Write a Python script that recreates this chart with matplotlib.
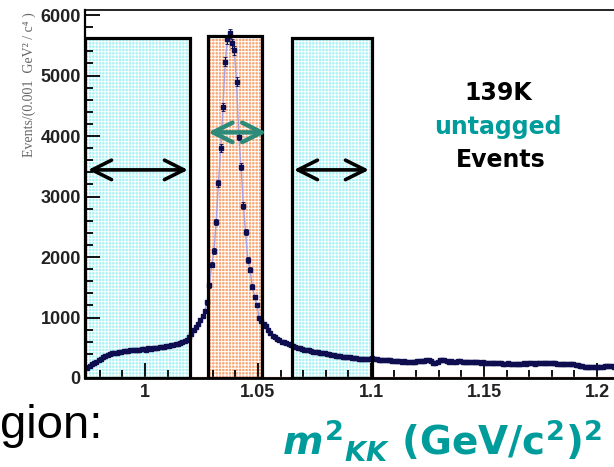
import numpy as np
import matplotlib
matplotlib.use("Agg")
import matplotlib.pyplot as plt
from matplotlib.patches import Rectangle
from matplotlib.ticker import MultipleLocator

# m^2(KK) histogram, 0.001 GeV^2 bins starting at 0.974
bin_lo = 0.974
bin_w = 0.001
counts = [
    170, 195, 225, 250, 270, 295, 320, 345, 365, 385,
    390, 405, 415, 420, 435, 430, 445, 440, 450, 455,
    460, 455, 470, 465, 475, 480, 470, 490, 485, 495,
    500, 495, 510, 505, 520, 530, 525, 540, 545, 555,
    565, 580, 595, 615, 635, 680, 730, 790, 840, 900,
    960, 1030, 1110, 1250, 1530, 1870, 2100, 2580, 3220, 3800,
    4480, 5230, 5600, 5700, 5530, 5420, 4900, 3990, 3490, 2850,
    2410, 1950, 1790, 1510, 1340, 1210, 990, 950, 900, 860,
    800, 750, 700, 670, 640, 620, 600, 590, 575, 560,
    545, 530, 515, 500, 490, 480, 470, 462, 455, 445,
    435, 430, 425, 415, 410, 405, 400, 390, 385, 375,
    370, 365, 360, 355, 350, 345, 340, 338, 332, 328,
    322, 318, 315, 312, 310, 320, 325, 318, 312, 305,
    300, 298, 295, 305, 290, 285, 282, 280, 278, 272,
    275, 268, 270, 265, 272, 268, 275, 280, 286, 282,
    290, 295, 280, 255, 245, 265, 300, 305, 290, 280,
    270, 275, 268, 272, 280, 276, 270, 265, 268, 262,
    265, 258, 262, 260, 255, 258, 252, 250, 254, 248,
    245, 242, 248, 240, 238, 236, 245, 232, 236, 228,
    226, 232, 238, 242, 236, 244, 240, 246, 238, 244,
    248, 252, 246, 254, 250, 244, 252, 240, 236, 232,
    238, 230, 234, 228, 232, 225, 220, 210, 200, 195,
    188, 185, 180, 178, 182, 175, 178, 185, 190, 195,
    198, 200, 195, 190, 192, 188, 190, 186, 190, 192,
]

# sideband / signal windows (lo, hi, top)
left_sb = (0.9735, 1.0199, 5620)
signal = (1.0279, 1.0518, 5650)
right_sb = (1.0650, 1.1004, 5620)

# arrows (x0, x1, y)
arrow_left = (0.9748, 1.0190, 3440)
arrow_sig = (1.0279, 1.0538, 4060)
arrow_right = (1.0659, 1.0991, 3440)

teal = "#009c9c"
arrow_teal = "#2e8b7a"

plt.rcParams["hatch.linewidth"] = 0.7

fig = plt.figure(figsize=(6.14, 4.67), dpi=100)
ax = fig.add_axes([85 / 614, 89 / 467, 555 / 614, 368 / 467])

counts = np.array(counts, dtype=float)
centers = bin_lo + bin_w * (np.arange(len(counts)) + 0.5)

for (lo, hi, top), fc in [(left_sb, "#a6f2f4"), (signal, "#f9a674"), (right_sb, "#a6f2f4")]:
    ax.add_patch(Rectangle((lo, 0), hi - lo, top, facecolor=fc, edgecolor="white",
                           hatch="+++++", lw=0, zorder=1))
    ax.add_patch(Rectangle((lo, 0), hi - lo, top, facecolor="none",
                           edgecolor="black", lw=2.3, zorder=5))

ax.plot([0.97, 1.22], [15, 15], color="#f4b8b8", lw=1, zorder=2)
ax.plot(centers, counts, color="#a8a0e0", lw=1.0, zorder=2)
ax.errorbar(centers, counts, yerr=np.sqrt(counts), fmt="s", ms=2.2,
            color="#0d0d50", ecolor="#0d0d50", elinewidth=0.8, capsize=1.2,
            capthick=0.6, zorder=3)

for (x0, x1, y), c, lw in [(arrow_left, "black", 2.6), (arrow_sig, arrow_teal, 3.2),
                           (arrow_right, "black", 2.6)]:
    ax.annotate("", xy=(x1, y), xytext=(x0, y),
                arrowprops=dict(arrowstyle="<->,head_length=0.7,head_width=0.35",
                                color=c, lw=lw, mutation_scale=20,
                                shrinkA=0, shrinkB=0), zorder=6)

ax.set_xlim(0.97345, 1.21903)
ax.set_ylim(0, 6083)
ax.xaxis.set_major_locator(MultipleLocator(0.05))
ax.xaxis.set_minor_locator(MultipleLocator(0.01))
ax.yaxis.set_major_locator(MultipleLocator(1000))
ax.yaxis.set_minor_locator(MultipleLocator(200))
ax.set_xticks([1.0, 1.05, 1.1, 1.15, 1.2])
ax.set_xticklabels(["1", "1.05", "1.1", "1.15", "1.2"])
ax.tick_params(which="both", direction="in", top=False, right=False,
               labelsize=13, labelcolor="#222222", width=1.3)
ax.tick_params(which="major", length=11)
ax.tick_params(which="minor", length=6)
ax.tick_params(axis="x", pad=4)
ax.tick_params(axis="y", pad=3)
for lab in ax.get_xticklabels() + ax.get_yticklabels():
    lab.set_family(["Liberation Sans", "DejaVu Sans"])
    lab.set_fontweight("bold")
ax.spines["left"].set_linewidth(1.6)
ax.spines["bottom"].set_linewidth(2.0)
ax.spines["top"].set_linewidth(1.2)
ax.spines["right"].set_visible(False)

fig.text(0.047, 0.818, "Events/(0.001  GeV² / c⁴ )", rotation=90,
         ha="center", va="center", fontsize=10, color="#666666",
         family=["Liberation Serif", "DejaVu Serif"])

fig.text(0.811, 0.801, "139K", ha="center", va="center", fontsize=17,
         fontweight="bold", color="black", family="DejaVu Sans")
fig.text(0.811, 0.728, "untagged", ha="center", va="center", fontsize=17,
         fontweight="bold", color=teal, family="DejaVu Sans")
fig.text(0.816, 0.657, "Events", ha="center", va="center", fontsize=17,
         fontweight="bold", color="black", family="DejaVu Sans")

plt.rcParams["mathtext.fontset"] = "custom"
plt.rcParams["mathtext.it"] = "DejaVu Sans:italic:bold"
plt.rcParams["mathtext.rm"] = "DejaVu Sans:bold"
plt.rcParams["mathtext.bf"] = "DejaVu Sans:bold"
fig.text(602 / 614, 0.026, r"$m^{2}{}_{KK}$ (GeV/c$^{2}$)$^{2}$", ha="right",
         va="baseline", fontsize=28, fontweight="bold", color=teal,
         family="DejaVu Sans")

fig.text(0.0, 0.062, "gion:", ha="left", va="baseline", fontsize=34,
         color="black", family=["Liberation Sans", "DejaVu Sans"])

fig.savefig("out.png", dpi=100)
